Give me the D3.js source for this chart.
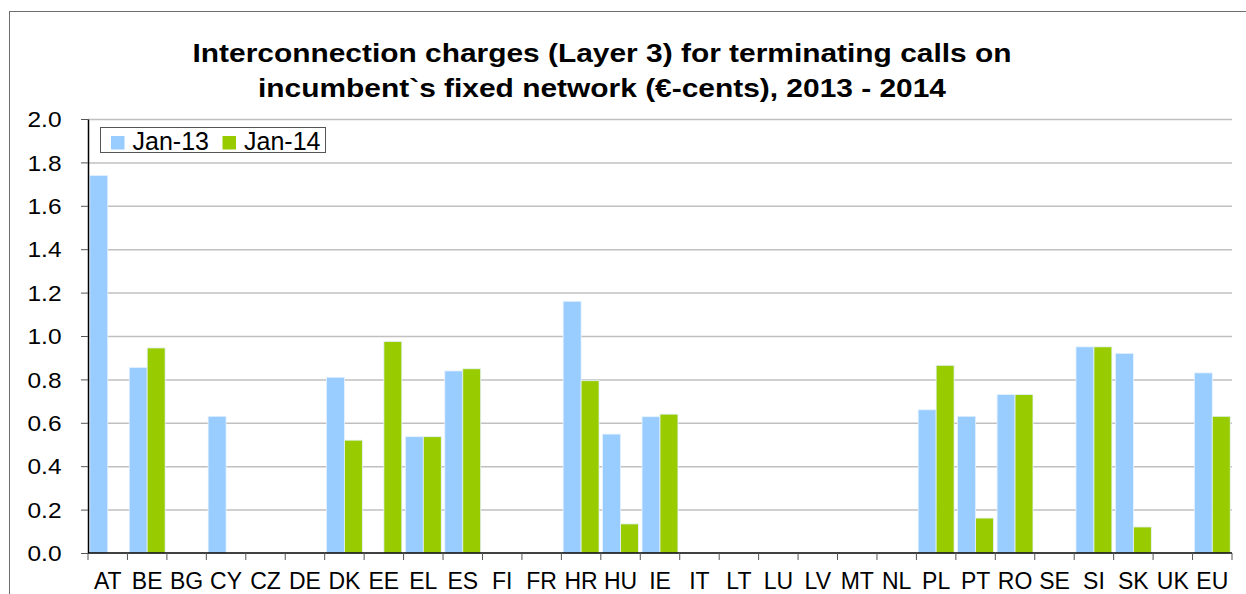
<!DOCTYPE html>
<html>
<head>
<meta charset="utf-8">
<script src="https://cdn.jsdelivr.net/npm/d3@7"></script>
<style>
  body { margin: 0; background: #fff; }
  svg text { font-family: "Liberation Sans", Arial, sans-serif; }
</style>
</head>
<body>
<div id="chart"></div>
<script>
const countries = ["AT","BE","BG","CY","CZ","DE","DK","EE","EL","ES","FI","FR","HR","HU","IE","IT","LT","LU","LV","MT","NL","PL","PT","RO","SE","SI","SK","UK","EU"];
const jan13 = [1.74,0.855,null,0.63,null,null,0.81,null,0.536,0.839,null,null,1.16,0.548,0.628,null,null,null,null,null,null,0.66,0.63,0.73,null,0.95,0.92,null,0.83];
const jan14 = [null,0.945,null,null,null,null,0.52,0.975,0.536,0.849,null,null,0.794,0.134,0.64,null,null,null,null,null,null,0.865,0.161,0.73,null,0.95,0.12,null,0.63];
const seriesNames = ["Jan-13", "Jan-14"];
const yTicks = [0, 0.2, 0.4, 0.6, 0.8, 1.0, 1.2, 1.4, 1.6, 1.8, 2.0];
const titleLines = ["Interconnection charges (Layer 3) for terminating calls on", "incumbent`s fixed network (\u20ac-cents), 2013 - 2014"];

const width = 1246;
const height = 594;
const margin = ({top: 119, right: 14, bottom: 41, left: 88});
const colours = {"Jan-13": "#99ccff", "Jan-14": "#99cc00"};

const svg = d3.select("#chart").append("svg")
    .attr("width", width)
    .attr("height", height);

// outer chart frame (cut off at right/bottom like the original)
svg.append("rect")
    .attr("x", 9.5).attr("y", 11.5)
    .attr("width", 1260).attr("height", 620)
    .attr("fill", "none")
    .attr("stroke", "#6e6e6e")
    .attr("stroke-width", 1);

const x = d3.scaleBand()
    .domain(countries)
    .range([margin.left, width - margin.right])
    .paddingInner(0.09)
    .paddingOuter(0.045);

const xSub = d3.scaleBand()
    .domain(seriesNames)
    .range([0, x.bandwidth()]);

const y = d3.scaleLinear()
    .domain([0, 2])
    .range([height - margin.bottom, margin.top]);

// gridlines
svg.append("g")
    .attr("transform", `translate(${margin.left},0)`)
    .call(d3.axisLeft(y).tickValues(yTicks.slice(1))
        .tickSize(-(width - margin.left - margin.right))
        .tickFormat(""))
    .call(g => g.select(".domain").remove())
    .call(g => g.selectAll("line").attr("stroke", "#c0c0c0").attr("stroke-width", 1.5));

// bars
const rows = countries.map((c, i) => ({country: c, values: [jan13[i], jan14[i]]}));
rows.forEach(r => {
    r.values.forEach((v, j) => {
        if (v == null) return;
        const s = seriesNames[j];
        svg.append("rect")
            .attr("x", x(r.country) + xSub(s))
            .attr("y", y(v))
            .attr("width", xSub.bandwidth())
            .attr("height", y(0) - y(v))
            .attr("fill", colours[s])
            .attr("stroke", "#e6f2ff")
            .attr("stroke-width", 0.8);
    });
});

// y axis
svg.append("g")
    .attr("transform", `translate(${margin.left},0)`)
    .call(d3.axisLeft(y).tickValues(yTicks).tickFormat(d3.format(".1f")).tickSize(7).tickSizeOuter(0))
    .call(g => g.select(".domain").attr("stroke", "#000").attr("stroke-width", 1.5))
    .call(g => g.selectAll("line").attr("stroke", "#555"))
    .call(g => g.selectAll("text")
        .attr("x", -26.5)
        .attr("dy", "0.34em")
        .attr("font-size", "22.5px")
        .attr("textLength", 34)
        .attr("lengthAdjust", "spacingAndGlyphs")
        .attr("fill", "#000"));

// x axis: ticks at category boundaries
const xAxis = svg.append("g")
    .attr("transform", `translate(0,${y(0)})`);
xAxis.append("line")
    .attr("x1", margin.left).attr("x2", width - margin.right)
    .attr("stroke", "#000").attr("stroke-width", 1.5);
const step = x.step();
const bounds = countries.map(c => x(c) - x.paddingOuter() * step).concat([width - margin.right]);
xAxis.selectAll(".tick-line").data(bounds).join("line")
    .attr("x1", d => d).attr("x2", d => d)
    .attr("y1", 0).attr("y2", 7)
    .attr("stroke", "#555");
xAxis.selectAll(".label").data(countries).join("text")
    .attr("x", d => x(d) + x.bandwidth() / 2)
    .attr("y", 35.5)
    .attr("text-anchor", "middle")
    .attr("font-size", "23px")
    .attr("fill", "#000")
    .text(d => d);

// title
const titleLen = [819, 688];
svg.selectAll(".title").data(titleLines).join("text")
    .attr("x", 602)
    .attr("y", (d, i) => 62 + i * 34.5)
    .attr("text-anchor", "middle")
    .attr("font-size", "26px")
    .attr("font-weight", "bold")
    .attr("fill", "#000")
    .attr("textLength", (d, i) => titleLen[i])
    .attr("lengthAdjust", "spacingAndGlyphs")
    .text(d => d);

// legend
const legend = svg.append("g");
legend.append("rect")
    .attr("x", 100.5).attr("y", 127.5)
    .attr("width", 225).attr("height", 25)
    .attr("fill", "#fff")
    .attr("stroke", "#555");
const legendX = [111, 222.5];
seriesNames.forEach((s, i) => {
    legend.append("rect")
        .attr("x", legendX[i]).attr("y", 136)
        .attr("width", 13.5).attr("height", 13.5)
        .attr("fill", colours[s]);
    legend.append("text")
        .attr("x", legendX[i] + 21.5)
        .attr("y", 149.5)
        .attr("font-size", "25px")
        .attr("fill", "#000")
        .text(s);
});
</script>
</body>
</html>
